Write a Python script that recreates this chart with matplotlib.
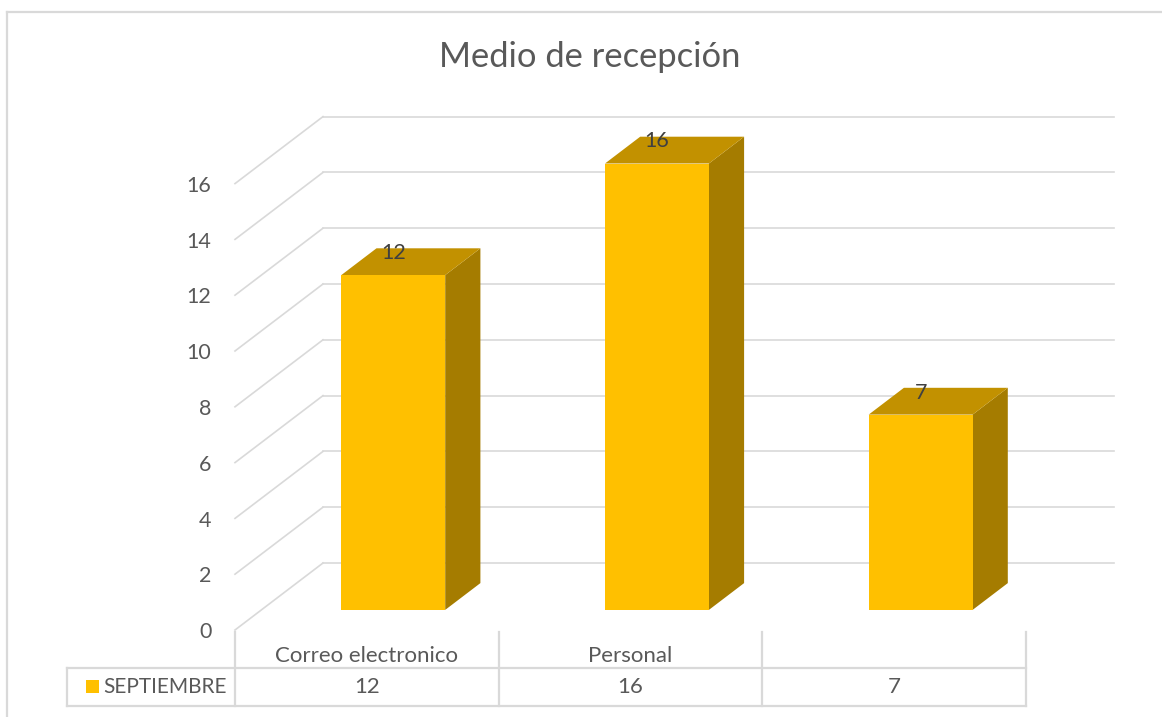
import matplotlib
matplotlib.use("Agg")
import matplotlib.pyplot as plt
from matplotlib.patches import Polygon, Rectangle
from matplotlib.lines import Line2D

# ---- data ----
title = "Medio de recepción"
categories = ["Correo electronico", "Personal", ""]
series_name = "SEPTIEMBRE"
values = [12, 16, 7]
yticks = [0, 2, 4, 6, 8, 10, 12, 14, 16]

# ---- styles ----
FONT = ["Lato", "DejaVu Sans"]
C_FRONT = "#FFC000"
C_TOP = "#C29100"
C_SIDE = "#A57C00"
C_GRID = "#D9D9D9"
C_TEXT = "#595959"
C_LABEL = "#404040"

W, H, DPI = 1162, 717, 100
PX_X = 263.7   # pixels per category
PX_Y = 27.9    # pixels per value unit
X0, Y0 = 235.0, 630.0   # pixel of (category 0 left edge, value 0) on front plane
DX = 88.0 / PX_X        # depth offset in data units
DY = 67.0 / PX_Y
F_FRONT, F_BACK = 0.30, 0.70
BAR_W = 0.394

fig = plt.figure(figsize=(W / DPI, H / DPI), dpi=DPI)
ax = fig.add_axes([0, 0, 1, 1])
ax.set_xlim(-X0 / PX_X, (W - X0) / PX_X)
ax.set_ylim(-(H - Y0) / PX_Y, Y0 / PX_Y)
ax.axis("off")

def px_to_data(px, py):
    return (px - X0) / PX_X, (Y0 - py) / PX_Y

n = len(categories)

# chart border (left and top edges visible)
bx, by = px_to_data(7, 12)
ax.add_line(Line2D([bx, bx], [by, ax.get_ylim()[0]], color=C_GRID, lw=1.6))
ax.add_line(Line2D([bx, ax.get_xlim()[1]], [by, by], color=C_GRID, lw=1.6))

# gridlines: side wall + back wall
for v in yticks:
    ax.add_line(Line2D([0, DX], [v, v + DY], color=C_GRID, lw=1.2, zorder=1))
    ax.add_line(Line2D([DX, n + DX], [v + DY, v + DY], color=C_GRID, lw=1.2, zorder=1))
    ax.text(-0.09, v - 0.08, str(v), ha="right", va="center", fontsize=15.5,
            color=C_TEXT, family=FONT)

# bars
for i, v in enumerate(values):
    xl = i + 0.5 - BAR_W / 2
    xr = i + 0.5 + BAR_W / 2
    fx, fy = F_FRONT * DX, F_FRONT * DY
    bdx, bdy = F_BACK * DX, F_BACK * DY
    front = [(xl + fx, fy), (xr + fx, fy), (xr + fx, v + fy), (xl + fx, v + fy)]
    side = [(xr + fx, fy), (xr + bdx, bdy), (xr + bdx, v + bdy), (xr + fx, v + fy)]
    top = [(xl + fx, v + fy), (xr + fx, v + fy), (xr + bdx, v + bdy), (xl + bdx, v + bdy)]
    ax.add_patch(Polygon(side, closed=True, facecolor=C_SIDE, edgecolor="none", zorder=3))
    ax.add_patch(Polygon(top, closed=True, facecolor=C_TOP, edgecolor="none", zorder=3))
    ax.add_patch(Polygon(front, closed=True, facecolor=C_FRONT, edgecolor="none", zorder=4))
    ax.text(i + 0.5 + fx, v + bdy - 0.17, str(v), ha="center", va="center",
            fontsize=15.5, color=C_LABEL, family=FONT, zorder=5)

# data table
_, yt0 = px_to_data(0, 632)
_, yt1 = px_to_data(0, 668)
_, yt2 = px_to_data(0, 706)
xleft, _ = px_to_data(67, 0)
for k in range(n + 1):
    ax.add_line(Line2D([k, k], [yt0, yt2], color=C_GRID, lw=1.6))
ax.add_line(Line2D([xleft, n], [yt1, yt1], color=C_GRID, lw=1.6))
ax.add_line(Line2D([xleft, n], [yt2, yt2], color=C_GRID, lw=1.6))
ax.add_line(Line2D([xleft, xleft], [yt1, yt2], color=C_GRID, lw=1.6))
for i, (c, v) in enumerate(zip(categories, values)):
    ax.text(i + 0.5, (yt0 + yt1) / 2 - 0.2, c, ha="center", va="center",
            fontsize=16, color=C_TEXT, family=FONT)
    ax.text(i + 0.5, (yt1 + yt2) / 2, str(v), ha="center", va="center",
            fontsize=16, color=C_TEXT, family=FONT)
sx0, sy0 = px_to_data(86, 693)
sx1, sy1 = px_to_data(99, 680)
ax.add_patch(Rectangle((sx0, sy0), sx1 - sx0, sy1 - sy0, facecolor=C_FRONT, edgecolor="none"))
tx, _ = px_to_data(103, 0)
ax.text(tx, (yt1 + yt2) / 2, series_name, ha="left", va="center",
        fontsize=15, color=C_TEXT, family=FONT)

# title
tx, ty = px_to_data(590, 57)
ax.text(tx, ty, title, ha="center", va="center", fontsize=24.8, color=C_TEXT, family=FONT)

fig.savefig("out.png", dpi=DPI)
